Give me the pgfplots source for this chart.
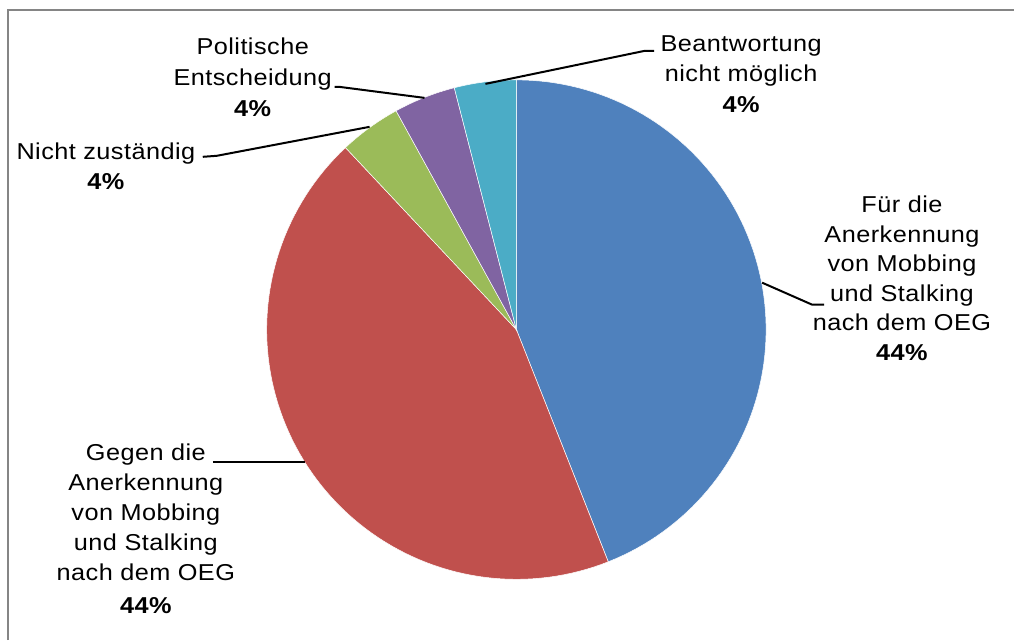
\documentclass[border=0pt]{standalone}
\usepackage{pgfplots}
\pgfplotsset{compat=1.18}
\usepackage{fontspec}
\setmainfont{Liberation Sans}[FakeStretch=1.1, LetterSpace=2]
\definecolor{pieblue}{HTML}{4F81BD}
\definecolor{piered}{HTML}{C0504D}
\definecolor{piegreen}{HTML}{9BBB59}
\definecolor{piepurple}{HTML}{8064A2}
\definecolor{piecyan}{HTML}{4BACC6}
\definecolor{framegray}{HTML}{858585}
% shares (percent)
\def\vFuer{44}
\def\vGegen{44}
\def\vNicht{4}
\def\vPol{4}
\def\vBean{4}
\pgfmathsetmacro\tot{\vFuer+\vGegen+\vNicht+\vPol+\vBean}
\pgfmathsetmacro\aA{90}
\pgfmathsetmacro\aB{\aA-360*\vFuer/\tot}
\pgfmathsetmacro\aC{\aB-360*\vGegen/\tot}
\pgfmathsetmacro\aD{\aC-360*\vNicht/\tot}
\pgfmathsetmacro\aE{\aD-360*\vPol/\tot}
\pgfmathsetmacro\aF{\aE-360*\vBean/\tot}
\begin{document}
\begin{tikzpicture}[font=\fontsize{11.5}{14}\selectfont]
\begin{axis}[hide axis, scale only axis, width=507.5pt, height=320.5pt,
  xmin=0, xmax=1015, ymin=0, ymax=641, clip=false]
\path (axis cs:0,0) -- (axis cs:1015,641);
\draw[framegray, line width=1.2pt] (axis cs:8,0) -- (axis cs:8,631) -- (axis cs:1015,631);
\pgfplotsset{slice/.style={draw=white, line width=0.25pt, samples=90}}
\addplot[slice, fill=pieblue, domain=\aB:\aA] ({517+250*cos(x)},{311+250*sin(x)}) -- (axis cs:517,311) -- cycle;
\addplot[slice, fill=piered, domain=\aC:\aB] ({517+250*cos(x)},{311+250*sin(x)}) -- (axis cs:517,311) -- cycle;
\addplot[slice, fill=piegreen, domain=\aD:\aC, samples=20] ({517+250*cos(x)},{311+250*sin(x)}) -- (axis cs:517,311) -- cycle;
\addplot[slice, fill=piepurple, domain=\aE:\aD, samples=20] ({517+250*cos(x)},{311+250*sin(x)}) -- (axis cs:517,311) -- cycle;
\addplot[slice, fill=piecyan, domain=\aF:\aE, samples=20] ({517+250*cos(x)},{311+250*sin(x)}) -- (axis cs:517,311) -- cycle;
% leader lines
\draw[black, line width=1pt] (axis cs:486,557) -- (axis cs:645,590) -- (axis cs:655,590);
\draw[black, line width=1pt] (axis cs:425,543) -- (axis cs:340,554) -- (axis cs:335,554);
\draw[black, line width=1pt] (axis cs:370,514) -- (axis cs:217,485) -- (axis cs:203,484);
\draw[black, line width=1pt] (axis cs:763,358) -- (axis cs:813,336) -- (axis cs:825,336);
\draw[black, line width=1pt] (axis cs:213,178) -- (axis cs:305,178);
% labels: Für
\node[anchor=base] at (axis cs:903,428) {Für die};
\node[anchor=base] at (axis cs:903,398) {Anerkennung};
\node[anchor=base] at (axis cs:903,369) {von Mobbing};
\node[anchor=base] at (axis cs:903,339) {und Stalking};
\node[anchor=base] at (axis cs:903,310) {nach dem OEG};
\node[anchor=base] at (axis cs:903,280) {\bfseries 44\%};
% Gegen
\node[anchor=base] at (axis cs:146,180) {Gegen die};
\node[anchor=base] at (axis cs:146,150) {Anerkennung};
\node[anchor=base] at (axis cs:146,120) {von Mobbing};
\node[anchor=base] at (axis cs:146,90) {und Stalking};
\node[anchor=base] at (axis cs:146,60) {nach dem OEG};
\node[anchor=base] at (axis cs:146,27) {\bfseries 44\%};
% Nicht zuständig
\node[anchor=base] at (axis cs:106,481) {Nicht zuständig};
\node[anchor=base] at (axis cs:106,451) {\bfseries 4\%};
% Politische Entscheidung
\node[anchor=base] at (axis cs:253,586) {Politische};
\node[anchor=base] at (axis cs:253,555) {Entscheidung};
\node[anchor=base] at (axis cs:253,524) {\bfseries 4\%};
% Beantwortung
\node[anchor=base] at (axis cs:742,589) {Beantwortung};
\node[anchor=base] at (axis cs:742,559) {nicht möglich};
\node[anchor=base] at (axis cs:742,528) {\bfseries 4\%};
\end{axis}
\end{tikzpicture}
\end{document}
